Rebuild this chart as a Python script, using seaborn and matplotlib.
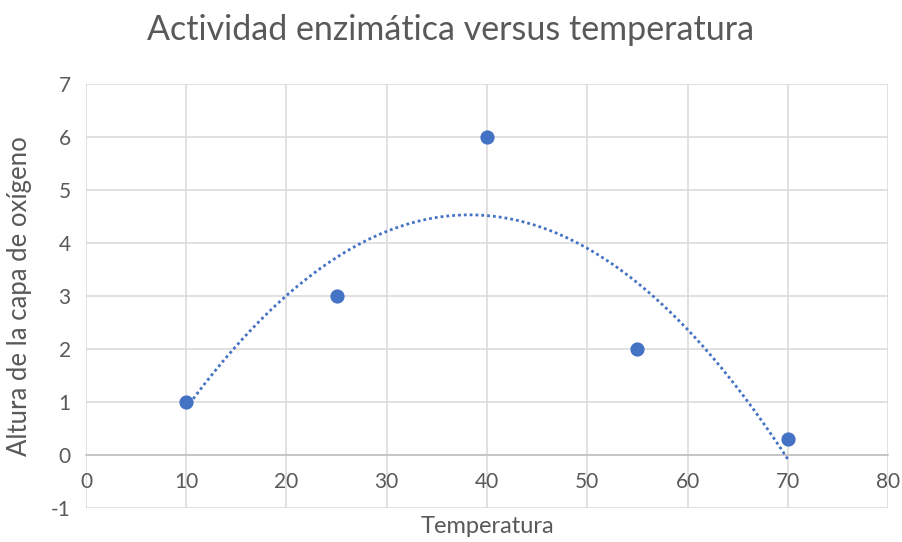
import matplotlib
matplotlib.use("Agg")
import matplotlib.pyplot as plt
import numpy as np
import seaborn as sns
import pandas as pd

# data
temperatura = [10, 25, 40, 55, 70]
altura = [1.0, 3.0, 6.0, 2.0, 0.3]

x_ticks = [0, 10, 20, 30, 40, 50, 60, 70, 80]
y_ticks = [-1, 0, 1, 2, 3, 4, 5, 6, 7]

titulo = "Actividad enzimática versus temperatura"
x_label = "Temperatura"
y_label = "Altura de la capa de oxígeno"

sns.set_style("white")
plt.rcParams['font.family'] = ['Lato', 'DejaVu Sans']
plt.rcParams['axes.unicode_minus'] = False

ds = pd.DataFrame({x_label: temperatura, y_label: altura})

azul = "#4472C4"
gris = "#595959"

fig = plt.figure(figsize=(9.02, 5.42), dpi=100)
ax = fig.add_axes([0.0953, 0.0627, 0.8892, 0.7823])

sns.regplot(x=x_label, y=y_label, data=ds, order=2, ci=None, ax=ax,
            scatter_kws=dict(s=105, color=azul, alpha=1, zorder=4, linewidths=0),
            line_kws=dict(color=azul, lw=2.0, linestyle=(0, (1, 1.1)), zorder=3))

ax.set_xlim(0, 80)
ax.set_ylim(-1, 7)
ax.set_xticks(x_ticks)
ax.set_yticks(y_ticks)
ax.grid(True, color="#d9d9d9", lw=1.1)
ax.set_axisbelow(True)
for s in ["top", "right", "left"]:
    ax.spines[s].set_visible(False)
ax.spines["bottom"].set_position(("data", 0))
ax.spines["bottom"].set_color("#bfbfbf")
ax.spines["bottom"].set_linewidth(1.1)
ax.tick_params(length=0, labelsize=15, labelcolor=gris)
ax.tick_params(axis="x", pad=12)
ax.tick_params(axis="y", pad=11)

ax.set_xlabel(x_label, fontsize=17, color=gris)
ax.set_ylabel(y_label, fontsize=18.5, color=gris)
ax.xaxis.set_label_coords(0.5, -0.02)
ax.yaxis.set_label_coords(-0.067, 0.5)

fig.text(0.5, 0.945, titulo, ha="center", va="center", fontsize=24.5, color=gris)

plt.savefig("out.png", dpi=100)
